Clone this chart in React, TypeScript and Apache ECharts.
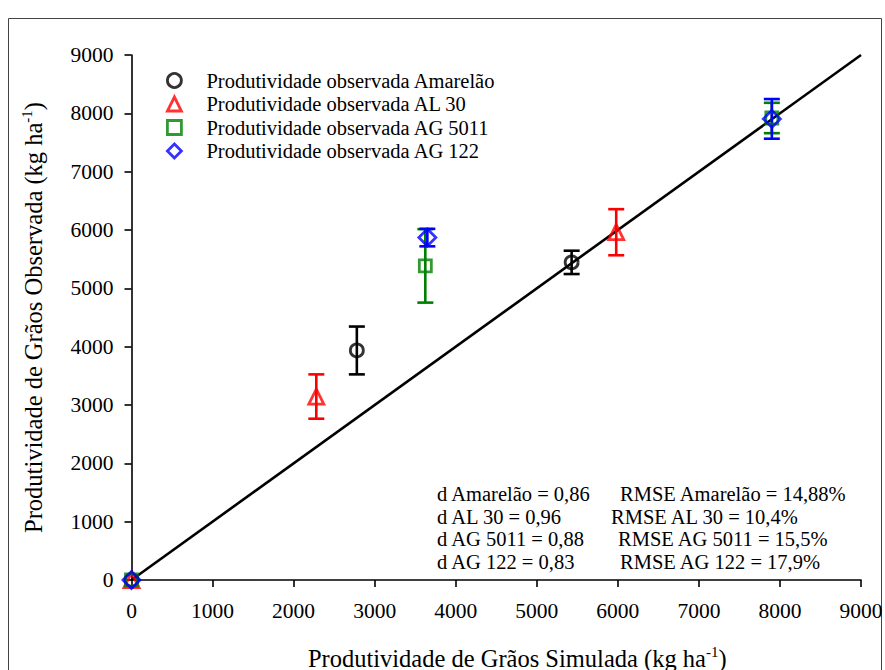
import React, { useEffect, useRef } from "react";
import * as echarts from "echarts";

const FONT = "Liberation Serif";

const seriesNames = [
  "Produtividade observada Amarelão",
  "Produtividade observada AL 30",
  "Produtividade observada AG 5011",
  "Produtividade observada AG 122",
];
const seriesColors = ["#000000", "#ff0000", "#008000", "#0000ff"];
const seriesSymbols = ["circle", "triangle", "rect", "diamond"];

const simAmarelao = [0, 2780, 5430];
const obsAmarelao = [0, 3935, 5445];
const errAmarelao = [0, 410, 200];

const simAL30 = [0, 2280, 5980];
const obsAL30 = [0, 3145, 5962];
const errAL30 = [0, 380, 395];

const simAG5011 = [0, 3625, 7900];
const obsAG5011 = [0, 5385, 7920];
const errAG5011 = [0, 630, 260];

const simAG122 = [0, 3650, 7900];
const obsAG122 = [0, 5870, 7905];
const errAG122 = [0, 150, 340];

const lineX = [0, 9000];
const lineY = [0, 9000];

const axisTicks = [0, 1000, 2000, 3000, 4000, 5000, 6000, 7000, 8000, 9000];

const statsLeft = ["d Amarelão = 0,86", "d AL 30 = 0,96", "d AG 5011 = 0,88", "d AG 122 = 0,83"];
const statsRight = [
  "RMSE Amarelão = 14,88%",
  "RMSE AL 30 = 10,4%",
  "RMSE AG 5011 = 15,5%",
  "RMSE AG 122 = 17,9%",
];
const statsRightX = [620, 611, 618, 620];

const groups = [
  { sim: simAmarelao, obs: obsAmarelao, err: errAmarelao },
  { sim: simAL30, obs: obsAL30, err: errAL30 },
  { sim: simAG5011, obs: obsAG5011, err: errAG5011 },
  { sim: simAG122, obs: obsAG122, err: errAG122 },
];

export default function App() {
  const ref = useRef<HTMLDivElement>(null);
  useEffect(() => {
    if (!ref.current) return;
    const chart = echarts.init(ref.current, null, { renderer: "svg" });

    const errorSeries = groups.map((g, i) => ({
      type: "custom",
      name: "err" + i,
      data: g.sim
        .map((x, k) => [x, g.obs[k] - g.err[k], g.obs[k] + g.err[k]])
        .filter((d, k) => g.err[k] > 0),
      z: 3,
      silent: true,
      renderItem: (params: any, api: any) => {
        const x = api.value(0);
        const lo = api.coord([x, api.value(1)]);
        const hi = api.coord([x, api.value(2)]);
        const hw = 8;
        const style = { stroke: seriesColors[i], lineWidth: 2.6, fill: "none" };
        return {
          type: "group",
          children: [
            { type: "line", shape: { x1: lo[0], y1: lo[1], x2: hi[0], y2: hi[1] }, style },
            { type: "line", shape: { x1: lo[0] - hw, y1: lo[1], x2: lo[0] + hw, y2: lo[1] }, style },
            { type: "line", shape: { x1: hi[0] - hw, y1: hi[1], x2: hi[0] + hw, y2: hi[1] }, style },
          ],
        };
      },
    }));

    const symbolSizes = [13, 15, 12, 17];

    const scatterSeries = groups.map((g, i) => ({
      type: "scatter",
      name: seriesNames[i],
      symbol: seriesSymbols[i],
      symbolSize: symbolSizes[i],
      data: g.sim.map((x, k) => [x, g.obs[k]]),
      z: 4,
      itemStyle: { color: "rgba(255,255,255,0)", borderColor: seriesColors[i], borderWidth: 2.8 },
    }));

    const axisCommon = {
      type: "value",
      min: 0,
      max: 9000,
      interval: 1000,
      splitLine: { show: false },
      axisLine: { show: true, lineStyle: { color: "#000", width: 1.6 } },
      axisTick: { show: true, inside: false, length: 7, lineStyle: { color: "#000", width: 1.6 } },
      nameLocation: "middle",
    };

    const richName = {
      a: { fontFamily: FONT, fontSize: 24.5, color: "#000", lineHeight: 28 },
      s: { fontFamily: FONT, fontSize: 15, color: "#000", verticalAlign: "top", lineHeight: 15 },
    };

    const tickLabel = {
      fontFamily: FONT,
      fontSize: 21.5,
      color: "#000",
      formatter: (v: number) => (axisTicks.includes(v) ? String(v) : ""),
    };

    chart.setOption({
      animation: false,
      backgroundColor: "#fff",
      textStyle: { fontFamily: FONT },
      grid: {
        left: 131.5,
        width: 729.5,
        top: 55,
        height: 525,
        containLabel: false,
        outerBoundsMode: "none",
      },
      legend: {
        data: seriesNames,
        orient: "vertical",
        left: 161,
        top: 65,
        itemWidth: 14,
        itemHeight: 14,
        itemGap: 2.5,
        itemStyle: { borderWidth: 2.8 },
        textStyle: { fontFamily: FONT, fontSize: 20.5, lineHeight: 20, color: "#000", padding: [0, 0, 0, 20] },
      },
      xAxis: {
        ...axisCommon,
        name: "{a|Produtividade de Grãos Simulada (kg ha}{s|-1}{a|)}",
        nameGap: 64,
        nameTextStyle: { padding: [0, 0, 0, 42], rich: richName },
        axisLabel: { ...tickLabel, margin: 20 },
      },
      yAxis: {
        ...axisCommon,
        name: "{a|Produtividade de Grãos Observada (kg ha}{s|-1}{a|)}",
        nameGap: 84,
        nameTextStyle: { rich: richName },
        axisLabel: { ...tickLabel, margin: 18 },
      },
      graphic: [
        {
          type: "rect",
          silent: true,
          shape: { x: 8.5, y: 18.5, width: 873, height: 700 },
          style: { fill: "none", stroke: "#444", lineWidth: 1 },
        },
        ...statsLeft.map((t, i) => ({
          type: "text",
          x: 437,
          y: 494 + i * 22.5,
          style: { text: t, fontFamily: FONT, fontSize: 20.5, fill: "#000", verticalAlign: "middle" },
        })),
        ...statsRight.map((t, i) => ({
          type: "text",
          x: statsRightX[i],
          y: 494 + i * 22.5,
          style: { text: t, fontFamily: FONT, fontSize: 20.5, fill: "#000", verticalAlign: "middle" },
        })),
      ],
      series: [
        {
          type: "line",
          name: "1:1",
          data: lineX.map((x, k) => [x, lineY[k]]),
          showSymbol: false,
          symbol: "none",
          z: 2,
          silent: true,
          lineStyle: { color: "#000", width: 2.6 },
        },
        ...errorSeries,
        ...scatterSeries,
      ],
    });
    return () => chart.dispose();
  }, []);
  return <div ref={ref} style={{ position: "absolute", left: 0, top: 0, width: 885, height: 670 }} />;
}
